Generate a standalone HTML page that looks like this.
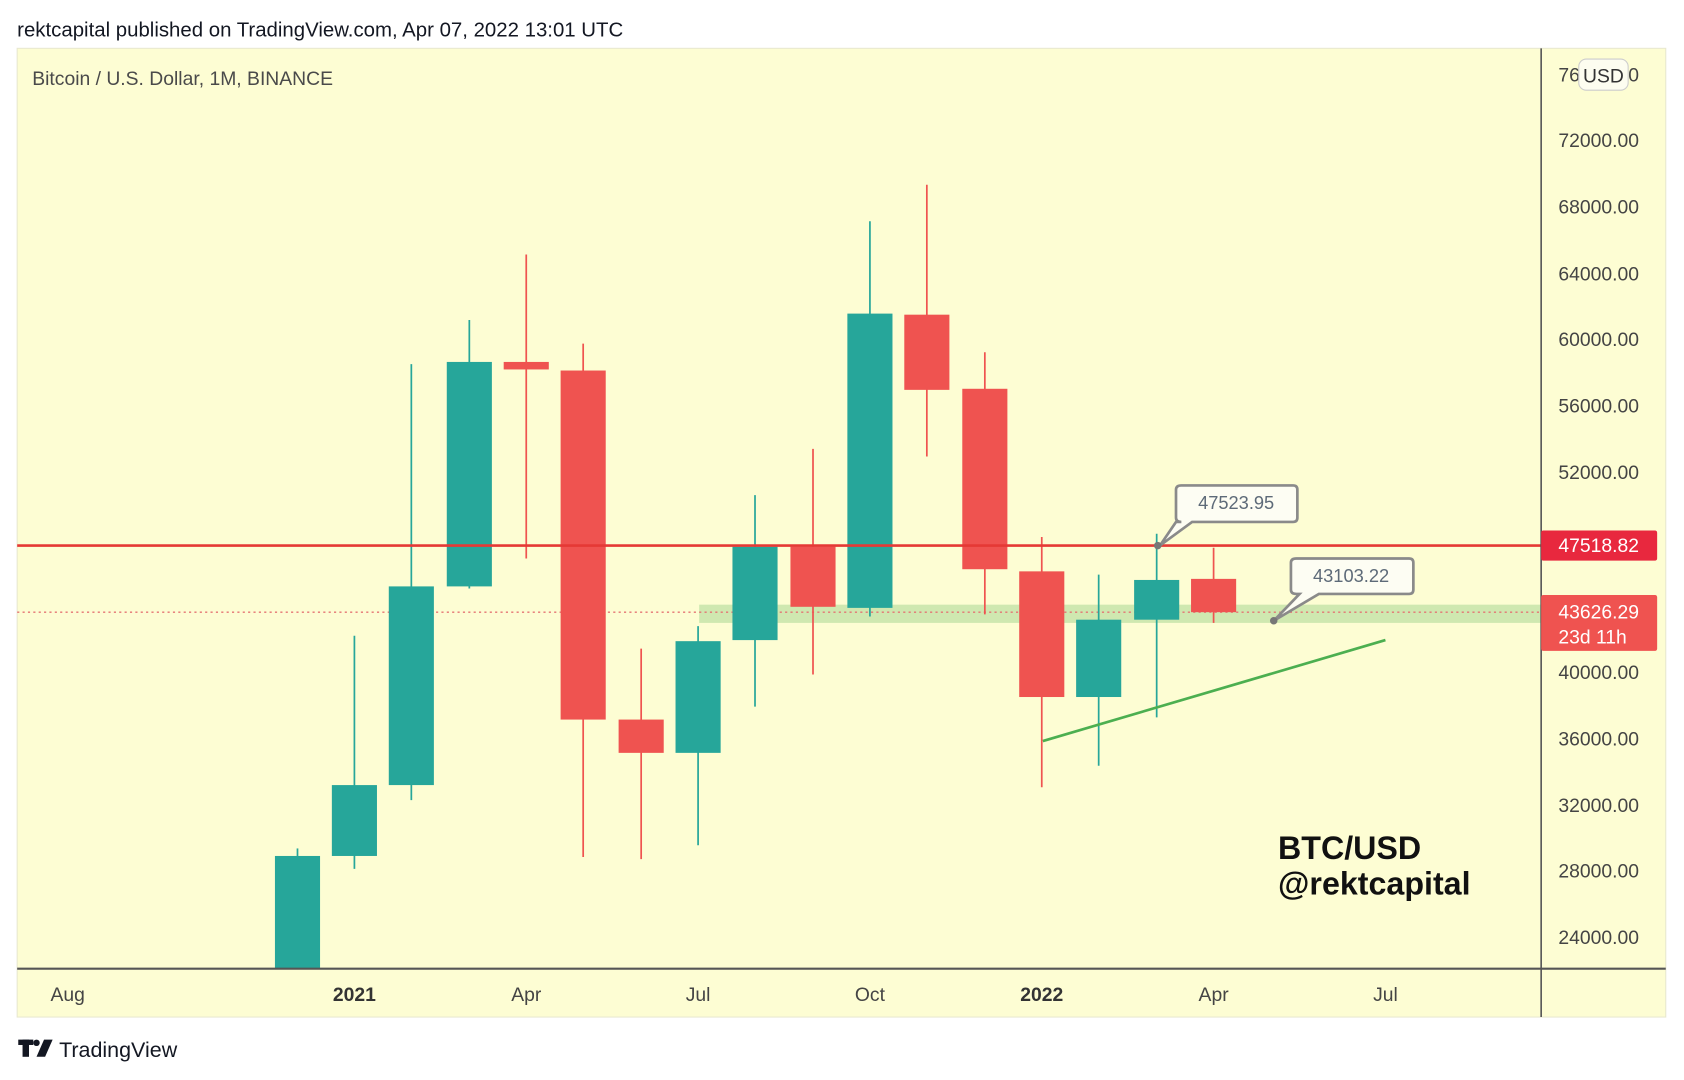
<!DOCTYPE html>
<html><head><meta charset="utf-8"><style>
html,body{margin:0;padding:0;background:#fff;width:1684px;height:1080px;overflow:hidden}
svg{display:block}
text{font-family:"Liberation Sans","DejaVu Sans",sans-serif}
</style></head><body>
<svg width="1684" height="1080" viewBox="0 0 1568 1005.6" xmlns="http://www.w3.org/2000/svg">
<rect x="0" y="0" width="1568" height="1006" fill="#fff"/>
<text x="16" y="34" font-size="19" fill="#131722">rektcapital published on TradingView.com, Apr 07, 2022 13:01 UTC</text>
<rect x="16" y="45" width="1535" height="902" fill="#fdfdd3" stroke="#e8e8d0"/>
<text x="30" y="79" font-size="18" fill="#4a4a4a">Bitcoin / U.S. Dollar, 1M, BINANCE</text>
<rect x="651" y="563" width="784" height="17" fill="#cfe8b0"/>
<line x1="16" y1="570" x2="1435" y2="570" stroke="#e57373" stroke-width="1.3" stroke-dasharray="2,3"/>
<g stroke-width="1.6">
<line x1="277" y1="790" x2="277" y2="902" stroke="#26a69a"/><rect x="256" y="797" width="42" height="105" fill="#26a69a"/>
<line x1="330" y1="592" x2="330" y2="809" stroke="#26a69a"/><rect x="309" y="731" width="42" height="66" fill="#26a69a"/>
<line x1="383" y1="339" x2="383" y2="745" stroke="#26a69a"/><rect x="362" y="546" width="42" height="185" fill="#26a69a"/>
<line x1="437" y1="298" x2="437" y2="548" stroke="#26a69a"/><rect x="416" y="337" width="42" height="209" fill="#26a69a"/>
<line x1="490" y1="237" x2="490" y2="520" stroke="#ef5350"/><rect x="469" y="337" width="42" height="7" fill="#ef5350"/>
<line x1="543" y1="320" x2="543" y2="798" stroke="#ef5350"/><rect x="522" y="345" width="42" height="325" fill="#ef5350"/>
<line x1="597" y1="604" x2="597" y2="800" stroke="#ef5350"/><rect x="576" y="670" width="42" height="31" fill="#ef5350"/>
<line x1="650" y1="583" x2="650" y2="787" stroke="#26a69a"/><rect x="629" y="597" width="42" height="104" fill="#26a69a"/>
<line x1="703" y1="461" x2="703" y2="658" stroke="#26a69a"/><rect x="682" y="509" width="42" height="87" fill="#26a69a"/>
<line x1="757" y1="418" x2="757" y2="628" stroke="#ef5350"/><rect x="736" y="509" width="42" height="56" fill="#ef5350"/>
<line x1="810" y1="206" x2="810" y2="574" stroke="#26a69a"/><rect x="789" y="292" width="42" height="274" fill="#26a69a"/>
<line x1="863" y1="172" x2="863" y2="425" stroke="#ef5350"/><rect x="842" y="293" width="42" height="70" fill="#ef5350"/>
<line x1="917" y1="328" x2="917" y2="572" stroke="#ef5350"/><rect x="896" y="362" width="42" height="168" fill="#ef5350"/>
<line x1="970" y1="500" x2="970" y2="733" stroke="#ef5350"/><rect x="949" y="532" width="42" height="117" fill="#ef5350"/>
<line x1="1023" y1="535" x2="1023" y2="713" stroke="#26a69a"/><rect x="1002" y="577" width="42" height="72" fill="#26a69a"/>
<line x1="1077" y1="497" x2="1077" y2="668" stroke="#26a69a"/><rect x="1056" y="540" width="42" height="37" fill="#26a69a"/>
<line x1="1130" y1="510" x2="1130" y2="580" stroke="#ef5350"/><rect x="1109" y="539" width="42" height="31" fill="#ef5350"/>
</g>
<line x1="16" y1="508" x2="1435" y2="508" stroke="#e53935" stroke-width="2.5"/>
<line x1="971" y1="690" x2="1290" y2="596" stroke="#4caf50" stroke-width="2.5"/>
<g fill="#fdfdf3" stroke="#8a8a8a" stroke-width="2.5">
<path d="M1100 452 H1204 Q1208 452 1208 456 V482 Q1208 486 1204 486 H1110 L1080 508 L1095 486 H1100 Q1095 486 1095 482 V456 Q1095 452 1100 452Z"/>
<path d="M1207 520 H1312 Q1316 520 1316 524 V549 Q1316 553 1312 553 H1228 L1186 578 L1210 553 H1207 Q1202 553 1202 549 V524 Q1202 520 1207 520Z"/>
</g>
<circle cx="1078" cy="508" r="3.5" fill="#777"/><circle cx="1186" cy="578" r="3.5" fill="#777"/>
<text x="1151" y="474" font-size="17" fill="#5d6a78" text-anchor="middle">47523.95</text>
<text x="1258" y="542" font-size="17" fill="#5d6a78" text-anchor="middle">43103.22</text>
<text x="1190" y="800" font-size="30" font-weight="bold" fill="#111">BTC/USD</text>
<text x="1190" y="833" font-size="30" font-weight="bold" fill="#111">@rektcapital</text>
<line x1="16" y1="902" x2="1551" y2="902" stroke="#555" stroke-width="2"/>
<line x1="1435" y1="45" x2="1435" y2="947" stroke="#555" stroke-width="1.5"/>
<g font-size="18" fill="#444" text-anchor="middle">
<text x="63" y="932">Aug</text><text x="330" y="932" font-weight="bold" fill="#333">2021</text>
<text x="490" y="932">Apr</text><text x="650" y="932">Jul</text><text x="810" y="932">Oct</text>
<text x="970" y="932" font-weight="bold" fill="#333">2022</text><text x="1130" y="932">Apr</text><text x="1290" y="932">Jul</text>
</g>
<g font-size="18" fill="#444">
<text x="1451" y="76">76000.00</text>
<text x="1451" y="137">72000.00</text><text x="1451" y="199">68000.00</text><text x="1451" y="261">64000.00</text>
<text x="1451" y="322">60000.00</text><text x="1451" y="384">56000.00</text><text x="1451" y="446">52000.00</text>
<text x="1451" y="632">40000.00</text><text x="1451" y="694">36000.00</text><text x="1451" y="756">32000.00</text>
<text x="1451" y="817">28000.00</text><text x="1451" y="879">24000.00</text>
</g>
<rect x="1470" y="55" width="46" height="29" rx="7" fill="#fdfdf0" stroke="#ccc"/>
<text x="1493" y="77" font-size="18" fill="#333" text-anchor="middle">USD</text>
<rect x="1435" y="494" width="108" height="28" rx="2" fill="#e8283e"/>
<text x="1451" y="514" font-size="18" fill="#fff">47518.82</text>
<rect x="1435" y="554" width="108" height="52" rx="2" fill="#ef5350"/>
<text x="1451" y="576" font-size="18" fill="#fff">43626.29</text>
<text x="1451" y="599" font-size="18" fill="#fff">23d 11h</text>
<rect x="17" y="968" width="14" height="5" fill="#131722"/><rect x="21" y="968" width="6" height="16" fill="#131722"/>
<path d="M34 984 L41 968 H49 L42 984Z" fill="#131722"/><circle cx="34" cy="971" r="3" fill="#131722"/>
<text x="55" y="984" font-size="20" fill="#131722">TradingView</text>
</svg>
</body></html>
